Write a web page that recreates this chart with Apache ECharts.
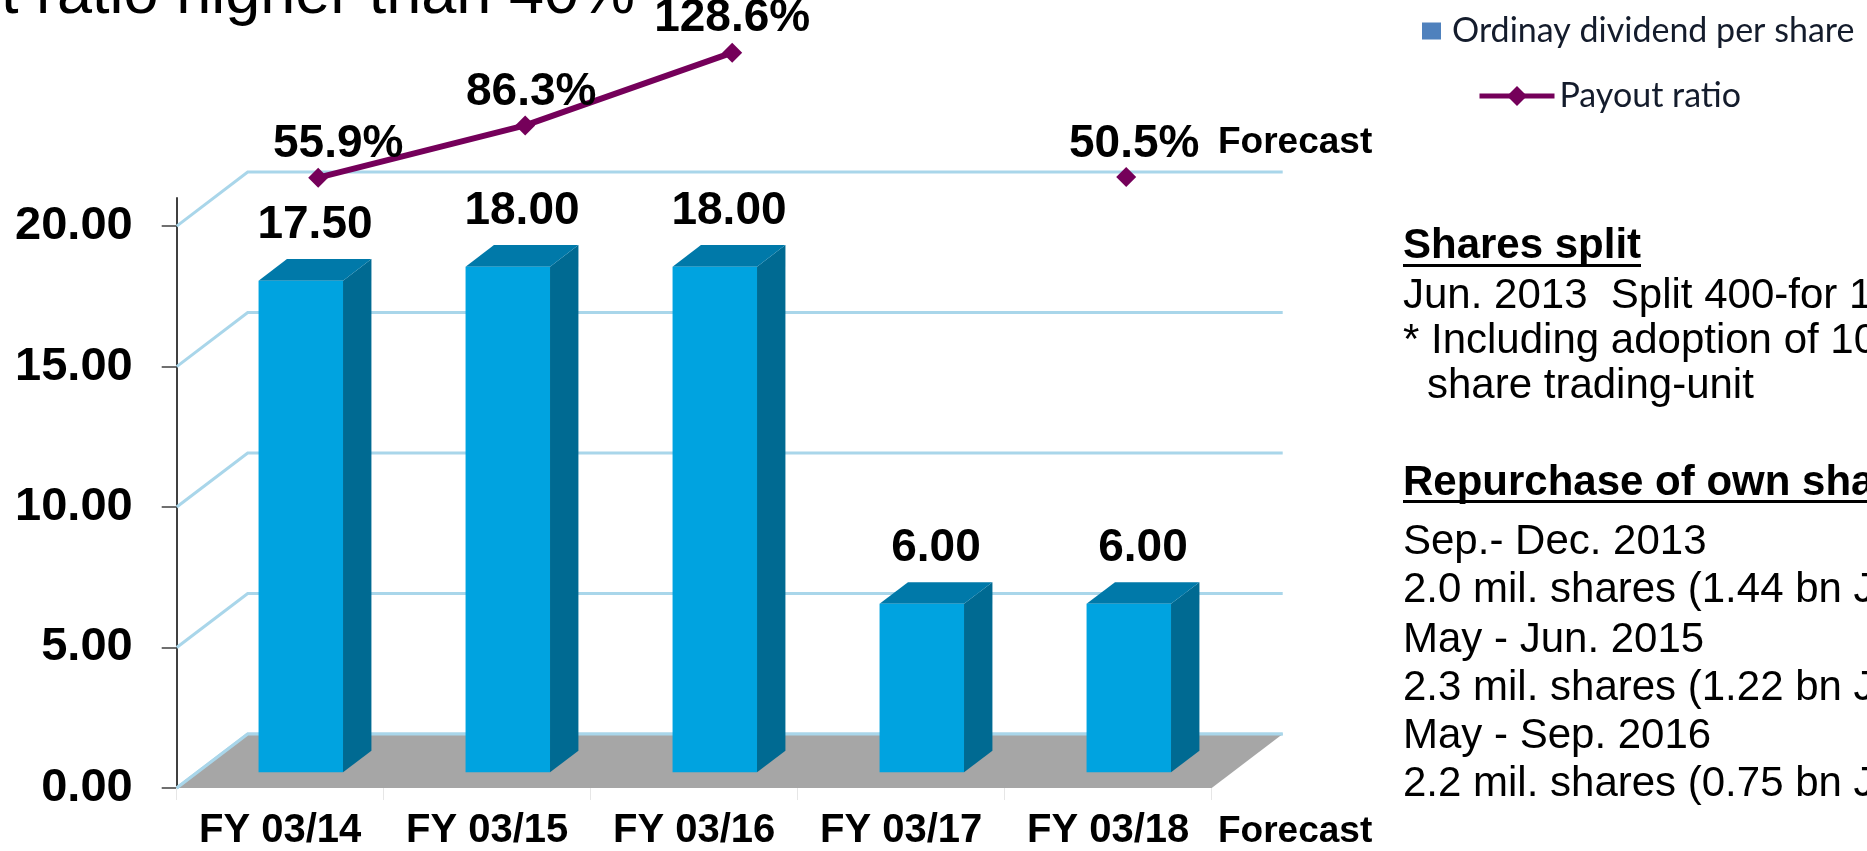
<!DOCTYPE html>
<html>
<head>
<meta charset="utf-8">
<script src="https://cdn.jsdelivr.net/npm/echarts@6/dist/echarts.min.js"></script>
<style>
  html, body { margin: 0; padding: 0; background: #fff; }
  #chart { width: 1867px; height: 851px; }
</style>
</head>
<body>
<div id="chart"></div>
<script>
var categories = ['FY 03/14', 'FY 03/15', 'FY 03/16', 'FY 03/17', 'FY 03/18'];
var dividend = [17.5, 18, 18, 6, 6];
var payout = [55.9, 86.3, 128.6, null, 50.5];
var dividendTicks = [0, 5, 10, 15, 20];

var chart = echarts.init(document.getElementById('chart'));

// fake 3d: depth of floor / back wall, and where the bars sit in it
var DEPTH_X = 71, DEPTH_Y = 54;
var BAR_FRONT = 0.29, BAR_BACK = 0.69;
var BOLD = 'bold 46px "Liberation Sans", Arial, sans-serif';
var GRID_COLOR = '#a9d6ea';

function renderGridLine(params, api) {
    var cs = params.coordSys;
    var y = api.coord([0, api.value(1)])[1];
    return {
        type: 'polyline',
        shape: { points: [[cs.x, y], [cs.x + DEPTH_X, y - DEPTH_Y], [cs.x + cs.width + DEPTH_X, y - DEPTH_Y]] },
        style: { stroke: GRID_COLOR, lineWidth: 3, fill: null }
    };
}

function renderFloor(params, api) {
    var cs = params.coordSys;
    var y = api.coord([0, api.value(1)])[1];
    var l = cs.x, r = cs.x + cs.width;
    return {
        type: 'group',
        children: [
            {
                type: 'polygon',
                shape: { points: [[l, y], [r, y], [r + DEPTH_X, y - DEPTH_Y], [l + DEPTH_X, y - DEPTH_Y]] },
                style: { fill: '#a6a6a6' }
            },
            {
                type: 'polyline',
                shape: { points: [[l, y], [l + DEPTH_X, y - DEPTH_Y], [r + DEPTH_X, y - DEPTH_Y]] },
                style: { stroke: GRID_COLOR, lineWidth: 3, fill: null }
            }
        ]
    };
}

function renderBar(params, api) {
    var i = api.value(0), v = api.value(1);
    var base = api.coord([i, 0]);
    var top = api.coord([i, v]);
    var w = api.size([1, 0])[0] * 0.408;
    var fx = DEPTH_X * BAR_FRONT, fy = DEPTH_Y * BAR_FRONT;
    var dx = DEPTH_X * (BAR_BACK - BAR_FRONT), dy = DEPTH_Y * (BAR_BACK - BAR_FRONT);
    var x0 = base[0] + fx - w / 2, x1 = x0 + w;
    var yb = base[1] - fy, yt = top[1] - fy;
    return {
        type: 'group',
        children: [
            { type: 'polygon', shape: { points: [[x1, yb], [x1 + dx, yb - dy], [x1 + dx, yt - dy], [x1, yt]] }, style: { fill: '#006a92' } },
            { type: 'polygon', shape: { points: [[x0, yt], [x1, yt], [x1 + dx, yt - dy], [x0 + dx, yt - dy]] }, style: { fill: '#0079a9' } },
            { type: 'rect', shape: { x: x0, y: yt, width: w, height: yb - yt }, style: { fill: '#00a3e0' } },
            {
                type: 'text', x: (x0 + x1) / 2 + dx / 2, y: yt - dy - 34,
                style: { text: v.toFixed(2), font: BOLD, fill: '#000', align: 'center', verticalAlign: 'middle' }
            }
        ]
    };
}

var payoutData = payout.map(function (v, i) {
    var offs = [[20, 3], [6, 3], [0, 2], [0, 0], [8, 3]];
    var item = { value: v, label: { offset: offs[i] } };
    if (i === 4) {
        item.symbolOffset = [-20, -10];
    }
    return item;
});

function txt(x, y, text, font, align) {
    return {
        type: 'text', x: x, y: y,
        style: { text: text, font: font, fill: '#000', align: align || 'left', verticalAlign: 'middle' }
    };
}
var REG = '42px "Liberation Sans", Arial, sans-serif';
var SUB = 'bold 42px "Liberation Sans", Arial, sans-serif';
var SMALL = 'bold 37px "Liberation Sans", Arial, sans-serif';

var option = {
    backgroundColor: '#ffffff',
    animation: false,
    grid: [
        { left: 176.7, right: 655.3, top: 198, bottom: 63 },
        { left: 214.7, right: 617.3, top: 33.1, bottom: 577.2 }
    ],
    xAxis: [
        {
            type: 'category', gridIndex: 0, data: categories,
            axisLine: { show: false },
            axisTick: { show: true, length: 12, lineStyle: { color: '#e6e6e6', width: 1 } },
            axisLabel: {
                interval: 0, margin: 23, color: '#000', fontSize: 40, fontWeight: 'bold',
                fontFamily: 'Liberation Sans'
            }
        },
        { type: 'category', gridIndex: 1, data: categories, show: false }
    ],
    yAxis: [
        {
            type: 'value', gridIndex: 0, min: 0, max: 21,
            splitLine: { show: false },
            axisLine: { show: true, lineStyle: { color: '#404040', width: 2 } },
            axisTick: { show: true, length: 15, customValues: dividendTicks, lineStyle: { color: '#404040', width: 1.5 } },
            axisLabel: {
                customValues: dividendTicks, margin: 44, color: '#000',
                fontSize: 47, fontWeight: 'bold', fontFamily: 'Liberation Sans',
                formatter: function (v) { return v.toFixed(2); }
            }
        },
        { type: 'value', gridIndex: 1, min: 0, max: 140, show: false }
    ],
    legend: [
        {
            data: [{ name: 'Ordinay dividend per share', icon: 'rect', itemStyle: { color: '#4f81bd' } }],
            left: 1417, top: 9, itemWidth: 19, itemHeight: 17, selectedMode: false,
            textStyle: { fontFamily: 'Lato', fontSize: 34, color: '#141c2c', padding: [0, 0, 0, 6] }
        },
        {
            data: ['Payout ratio'],
            left: 1472, top: 74, itemWidth: 75, itemHeight: 25, selectedMode: false,
            lineStyle: { width: 5, color: '#75005a' },
            textStyle: { fontFamily: 'Lato', fontSize: 34, color: '#141c2c' }
        }
    ],
    series: [
        {
            type: 'custom', name: 'grid', xAxisIndex: 0, yAxisIndex: 0, z: 1,
            renderItem: renderGridLine, silent: true,
            data: dividendTicks.map(function (v) { return [0, v]; })
        },
        {
            type: 'custom', name: 'floor', xAxisIndex: 0, yAxisIndex: 0, z: 2,
            renderItem: renderFloor, silent: true,
            data: [[0, 0]]
        },
        {
            type: 'custom', name: 'Ordinay dividend per share', xAxisIndex: 0, yAxisIndex: 0, z: 3,
            renderItem: renderBar,
            itemStyle: { color: '#4f81bd' },
            encode: { x: 0, y: 1 },
            data: dividend.map(function (v, i) { return [i, v]; })
        },
        {
            type: 'line', name: 'Payout ratio', xAxisIndex: 1, yAxisIndex: 1, z: 5,
            clip: false, connectNulls: false,
            symbol: 'diamond', symbolSize: 20,
            lineStyle: { color: '#75005a', width: 6 },
            itemStyle: { color: '#75005a' },
            label: {
                show: true, position: 'top', distance: 3,
                color: '#000', fontSize: 46, fontWeight: 'bold', fontFamily: 'Liberation Sans',
                formatter: function (p) { return p.value.toFixed(1) + '%'; }
            },
            data: payoutData
        }
    ],
    graphic: [
        txt(635, -4, 'Payout ratio higher than 40%', '63px "Liberation Sans", Arial, sans-serif', 'right'),
        txt(1218, 143, 'Forecast', SMALL),
        txt(1218, 832, 'Forecast', SMALL),
        txt(1403, 246, 'Shares split', SUB),
        { type: 'rect', shape: { x: 1403, y: 264, width: 238, height: 3 }, style: { fill: '#000' } },
        txt(1403, 296, 'Jun. 2013  Split 400-for 1', REG),
        txt(1403, 341, '* Including adoption of 100-', REG),
        txt(1427, 386, 'share trading-unit', REG),
        txt(1403, 483, 'Repurchase of own shares', SUB),
        { type: 'rect', shape: { x: 1403, y: 500, width: 520, height: 3 }, style: { fill: '#000' } },
        txt(1403, 542, 'Sep.- Dec. 2013', REG),
        txt(1403, 590, '2.0 mil. shares (1.44 bn JPY)', REG),
        txt(1403, 640, 'May - Jun. 2015', REG),
        txt(1403, 688, '2.3 mil. shares (1.22 bn JPY)', REG),
        txt(1403, 736, 'May - Sep. 2016', REG),
        txt(1403, 784, '2.2 mil. shares (0.75 bn JPY)', REG)
    ]
};

chart.setOption(option);
</script>
</body>
</html>
